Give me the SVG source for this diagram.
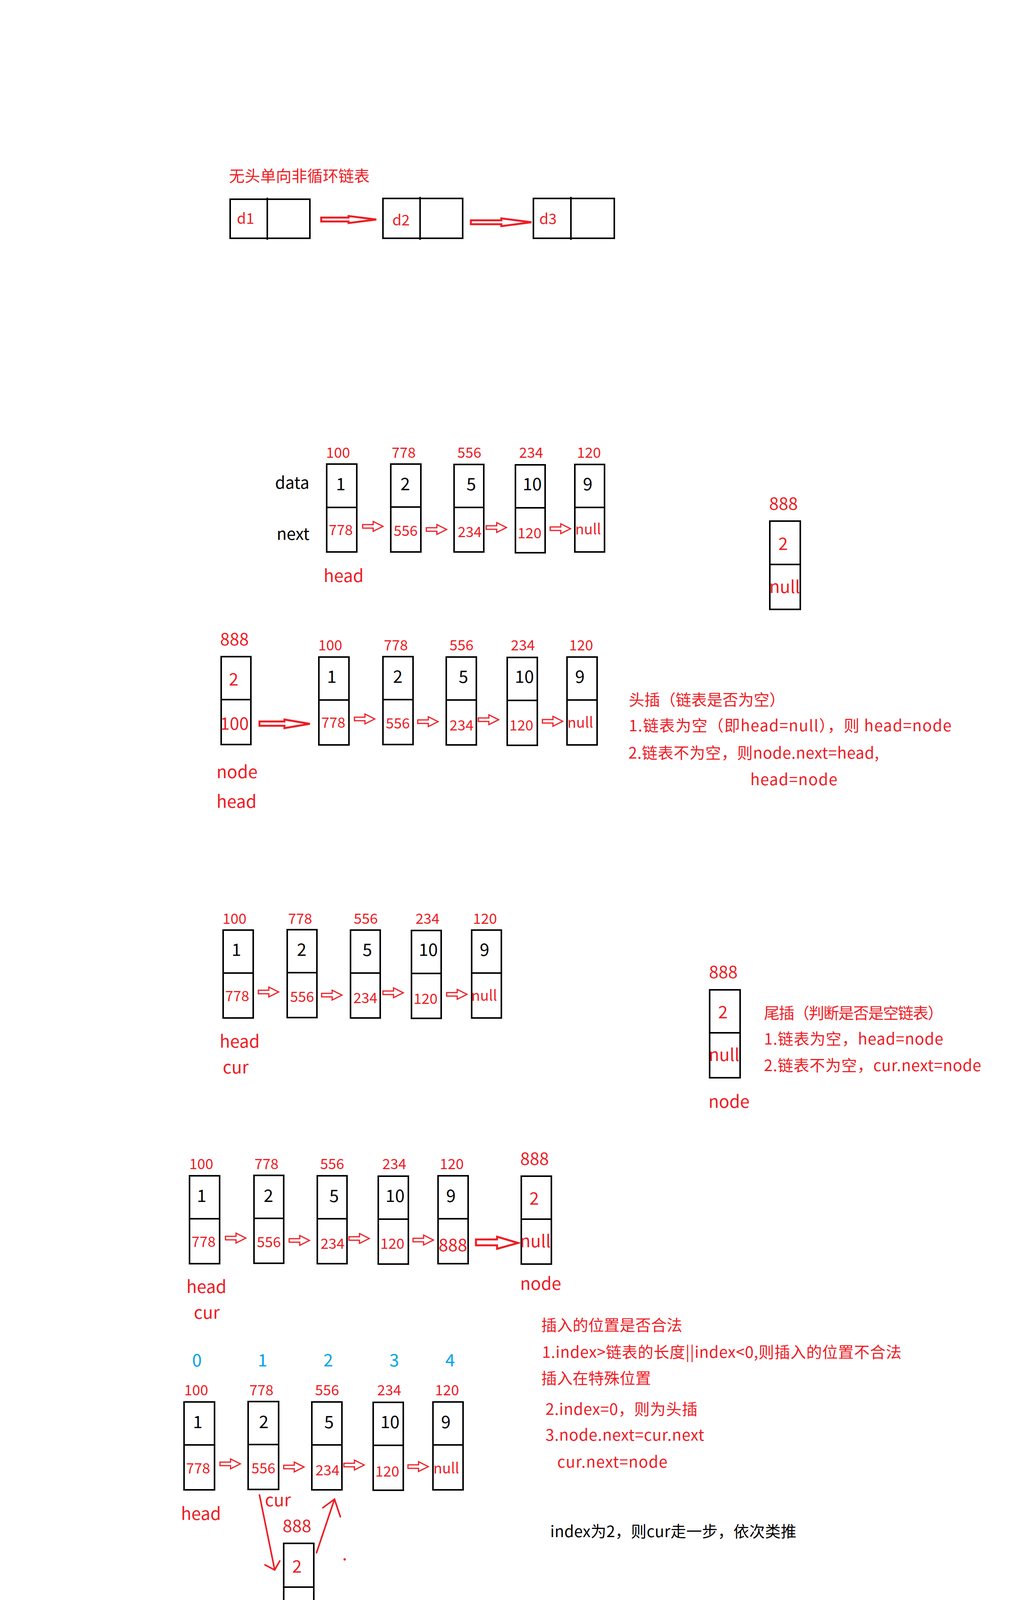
<svg xmlns="http://www.w3.org/2000/svg" xmlns:xlink="http://www.w3.org/1999/xlink" width="2600" height="5000" viewBox="0 0 2600 5000">
<style>
text { font-family: "Noto Sans CJK SC", "Noto Sans", sans-serif; }
.r { fill: #ed1c24; }
.k { fill: #000; }
.b { fill: #00a2e8; }
.box { fill: #fff; stroke: #000; stroke-width: 4; }
.dv { stroke: #000; stroke-width: 4; }
.arr { fill: #fff; stroke: #ed1c24; stroke-width: 3; stroke-linejoin: miter; }
.barr { fill: #fff; stroke: #ed1c24; stroke-width: 5; stroke-linejoin: miter; }
.hand { fill: none; stroke: #ed1c24; stroke-width: 4; stroke-linecap: round; }
.t40 { font-size: 40px; }
.lab { font-size: 37px; text-anchor: middle; }
.dat { font-size: 44px; text-anchor: middle; }
.nx { font-size: 37px; text-anchor: middle; }
.big { font-size: 44px; }
.mid { text-anchor: middle; }
.d { font-size: 38px; }
</style>
<defs>
<path id="sa" d="M0,8 H27 V0 L52,12.5 L27,25 V17 H0 Z"/>
</defs>
<rect width="2600" height="5000" fill="#fff"/>

<!-- Section 1 -->
<text class="r t40" x="586" y="465">无头单向非循环链表</text>
<g id="s1-d1">
<rect class="box" x="589" y="510" width="204" height="100"/>
<line class="dv" x1="684" y1="506" x2="684" y2="614"/>
<text class="r d" x="606" y="573">d1</text>
</g>
<g id="s1-d2">
<rect class="box" x="980" y="508" width="204" height="102"/>
<line class="dv" x1="1075" y1="504" x2="1075" y2="614"/>
<text class="r d" x="1004" y="577">d2</text>
</g>
<g id="s1-d3">
<rect class="box" x="1365" y="508" width="207" height="102"/>
<line class="dv" x1="1461" y1="504" x2="1461" y2="614"/>
<text class="r d" x="1380" y="574">d3</text>
</g>

<!-- Section 2 -->
<text class="k" x="704" y="1251" font-size="42">data</text>
<text class="k" x="708" y="1382" font-size="42">next</text>
<g id="s2-n100">
<text class="r lab" x="865" y="1172">100</text>
<rect class="box" x="836" y="1188" width="77" height="225"/>
<line class="dv" x1="836" y1="1299" x2="913" y2="1299"/>
<text class="k dat" x="872" y="1255">1</text>
<text class="r nx" x="872" y="1370">778</text>
</g>
<g id="s2-n778">
<text class="r lab" x="1033" y="1172">778</text>
<rect class="box" x="1000" y="1188" width="77" height="225"/>
<line class="dv" x1="1000" y1="1298" x2="1077" y2="1298"/>
<text class="k dat" x="1037" y="1255">2</text>
<text class="r nx" x="1038" y="1372">556</text>
</g>
<g id="s2-n556">
<text class="r lab" x="1201" y="1172">556</text>
<rect class="box" x="1162" y="1189" width="76" height="224"/>
<line class="dv" x1="1162" y1="1299" x2="1238" y2="1299"/>
<text class="k dat" x="1206" y="1255">5</text>
<text class="r nx" x="1202" y="1375">234</text>
</g>
<g id="s2-n234">
<text class="r lab" x="1359" y="1172">234</text>
<rect class="box" x="1319" y="1190" width="76" height="225"/>
<line class="dv" x1="1319" y1="1300" x2="1395" y2="1300"/>
<text class="k dat" x="1362" y="1255">10</text>
<text class="r nx" x="1355" y="1378">120</text>
</g>
<g id="s2-n120">
<text class="r lab" x="1507" y="1172">120</text>
<rect class="box" x="1471" y="1189" width="76" height="224"/>
<line class="dv" x1="1471" y1="1299" x2="1547" y2="1299"/>
<text class="k dat" x="1504" y="1255">9</text>
<text class="r nx" x="1505" y="1368">null</text>
</g>
<text class="r big" x="828" y="1490">head</text>
<g id="s2-n888">
<text class="r big mid" x="2005" y="1305">888</text>
<rect class="box" x="1970" y="1334" width="78" height="226"/>
<line class="dv" x1="1970" y1="1445" x2="2048" y2="1445"/>
<text class="r big mid" x="2004" y="1408">2</text>
<text class="r big mid" x="2008" y="1518">null</text>
</g>

<!-- Section 3 -->
<g id="s3-node">
<text class="r big mid" x="600" y="1652">888</text>
<rect class="box" x="566" y="1681" width="76" height="225"/>
<line class="dv" x1="566" y1="1791" x2="642" y2="1791"/>
<text class="r big mid" x="598" y="1755">2</text>
<text class="r big mid" x="600" y="1868">100</text>
</g>
<g id="s3-n100">
<text class="r lab" x="845" y="1665">100</text>
<rect class="box" x="816" y="1682" width="77" height="225"/>
<line class="dv" x1="816" y1="1792" x2="893" y2="1792"/>
<text class="k dat" x="849" y="1748">1</text>
<text class="r nx" x="853" y="1863">778</text>
</g>
<g id="s3-n778">
<text class="r lab" x="1013" y="1665">778</text>
<rect class="box" x="980" y="1681" width="77" height="225"/>
<line class="dv" x1="980" y1="1791" x2="1057" y2="1791"/>
<text class="k dat" x="1018" y="1748">2</text>
<text class="r nx" x="1018" y="1865">556</text>
</g>
<g id="s3-n556">
<text class="r lab" x="1181" y="1665">556</text>
<rect class="box" x="1142" y="1682" width="77" height="225"/>
<line class="dv" x1="1142" y1="1792" x2="1219" y2="1792"/>
<text class="k dat" x="1186" y="1748">5</text>
<text class="r nx" x="1181" y="1870">234</text>
</g>
<g id="s3-n234">
<text class="r lab" x="1338" y="1665">234</text>
<rect class="box" x="1298" y="1683" width="77" height="225"/>
<line class="dv" x1="1298" y1="1793" x2="1375" y2="1793"/>
<text class="k dat" x="1342" y="1748">10</text>
<text class="r nx" x="1334" y="1870">120</text>
</g>
<g id="s3-n120">
<text class="r lab" x="1487" y="1665">120</text>
<rect class="box" x="1451" y="1682" width="77" height="225"/>
<line class="dv" x1="1451" y1="1792" x2="1528" y2="1792"/>
<text class="k dat" x="1484" y="1748">9</text>
<text class="r nx" x="1485" y="1863">null</text>
</g>
<text class="r big" x="554" y="1992">node</text>
<text class="r big" x="554" y="2068">head</text>
<g id="s3-note">
<text class="r t40" x="1609" y="1806">头插（链表是否为空）</text>
<text class="r t40" x="1609" y="1872" textLength="826" lengthAdjust="spacing">1.链表为空（即head=null），则 head=node</text>
<text class="r t40" x="1608" y="1942" textLength="641" lengthAdjust="spacing">2.链表不为空，则node.next=head,</text>
<text class="r t40" x="1920" y="2010" textLength="223" lengthAdjust="spacing">head=node</text>
</g>

<!-- Section 4 -->
<g id="s4-n100">
<text class="r lab" x="600" y="2365">100</text>
<rect class="box" x="571" y="2381" width="77" height="225"/>
<line class="dv" x1="571" y1="2491" x2="648" y2="2491"/>
<text class="k dat" x="605" y="2447">1</text>
<text class="r nx" x="607" y="2563">778</text>
</g>
<g id="s4-n778">
<text class="r lab" x="768" y="2365">778</text>
<rect class="box" x="735" y="2380" width="76" height="225"/>
<line class="dv" x1="735" y1="2490" x2="811" y2="2490"/>
<text class="k dat" x="772" y="2447">2</text>
<text class="r nx" x="773" y="2565">556</text>
</g>
<g id="s4-n556">
<text class="r lab" x="936" y="2365">556</text>
<rect class="box" x="897" y="2381" width="76" height="225"/>
<line class="dv" x1="897" y1="2491" x2="973" y2="2491"/>
<text class="k dat" x="940" y="2447">5</text>
<text class="r nx" x="935" y="2568">234</text>
</g>
<g id="s4-n234">
<text class="r lab" x="1094" y="2365">234</text>
<rect class="box" x="1053" y="2382" width="76" height="225"/>
<line class="dv" x1="1053" y1="2492" x2="1129" y2="2492"/>
<text class="k dat" x="1096" y="2447">10</text>
<text class="r nx" x="1089" y="2570">120</text>
</g>
<g id="s4-n120">
<text class="r lab" x="1241" y="2365">120</text>
<rect class="box" x="1207" y="2381" width="76" height="225"/>
<line class="dv" x1="1207" y1="2491" x2="1283" y2="2491"/>
<text class="k dat" x="1240" y="2447">9</text>
<text class="r nx" x="1239" y="2562">null</text>
</g>
<text class="r big" x="562" y="2682">head</text>
<text class="r big" x="570" y="2748">cur</text>
<g id="s4-node">
<text class="r big mid" x="1851" y="2504">888</text>
<rect class="box" x="1816" y="2534" width="78" height="225"/>
<line class="dv" x1="1816" y1="2644" x2="1894" y2="2644"/>
<text class="r big mid" x="1850" y="2607">2</text>
<text class="r big mid" x="1853" y="2716">null</text>
<text class="r big" x="1813" y="2836">node</text>
</g>
<g id="s4-note">
<text class="r t40" x="1955" y="2608" textLength="459" lengthAdjust="spacing">尾插（判断是否是空链表）</text>
<text class="r t40" x="1955" y="2674" textLength="459" lengthAdjust="spacing">1.链表为空，head=node</text>
<text class="r t40" x="1955" y="2742" textLength="556" lengthAdjust="spacing">2.链表不为空，cur.next=node</text>
</g>

<!-- Section 5 -->
<g id="s5-n100">
<text class="r lab" x="515" y="2993">100</text>
<rect class="box" x="485" y="3010" width="77" height="225"/>
<line class="dv" x1="485" y1="3120" x2="562" y2="3120"/>
<text class="k dat" x="516" y="3077">1</text>
<text class="r nx" x="521" y="3192">778</text>
</g>
<g id="s5-n778">
<text class="r lab" x="682" y="2993">778</text>
<rect class="box" x="650" y="3009" width="76" height="225"/>
<line class="dv" x1="650" y1="3119" x2="726" y2="3119"/>
<text class="k dat" x="687" y="3077">2</text>
<text class="r nx" x="688" y="3193">556</text>
</g>
<g id="s5-n556">
<text class="r lab" x="850" y="2993">556</text>
<rect class="box" x="812" y="3010" width="76" height="225"/>
<line class="dv" x1="812" y1="3120" x2="888" y2="3120"/>
<text class="k dat" x="855" y="3077">5</text>
<text class="r nx" x="851" y="3197">234</text>
</g>
<g id="s5-n234">
<text class="r lab" x="1009" y="2993">234</text>
<rect class="box" x="968" y="3011" width="77" height="225"/>
<line class="dv" x1="968" y1="3121" x2="1045" y2="3121"/>
<text class="k dat" x="1011" y="3077">10</text>
<text class="r nx" x="1004" y="3197">120</text>
</g>
<g id="s5-n120">
<text class="r lab" x="1156" y="2993">120</text>
<rect class="box" x="1121" y="3010" width="77" height="225"/>
<line class="dv" x1="1121" y1="3120" x2="1198" y2="3120"/>
<text class="k dat" x="1154" y="3077">9</text>
<text class="r big mid" x="1159" y="3203">888</text>
</g>
<g id="s5-node">
<text class="r big mid" x="1368" y="2982">888</text>
<rect class="box" x="1334" y="3011" width="77" height="225"/>
<line class="dv" x1="1334" y1="3121" x2="1411" y2="3121"/>
<text class="r big mid" x="1367" y="3084">2</text>
<text class="r big mid" x="1370" y="3193">null</text>
<text class="r big" x="1331" y="3302">node</text>
</g>
<text class="r big" x="477" y="3310">head</text>
<text class="r big" x="496" y="3376">cur</text>

<!-- Section 6 -->
<g id="s6-index">
<text class="b big mid" x="504" y="3498">0</text>
<text class="b big mid" x="672" y="3498">1</text>
<text class="b big mid" x="840" y="3498">2</text>
<text class="b big mid" x="1009" y="3498">3</text>
<text class="b big mid" x="1152" y="3498">4</text>
</g>
<g id="s6-n100">
<text class="r lab" x="502" y="3572">100</text>
<rect class="box" x="471" y="3589" width="78" height="225"/>
<line class="dv" x1="471" y1="3699" x2="549" y2="3699"/>
<text class="k dat" x="506" y="3656">1</text>
<text class="r nx" x="507" y="3772">778</text>
</g>
<g id="s6-n778">
<text class="r lab" x="669" y="3572">778</text>
<rect class="box" x="635" y="3588" width="78" height="225"/>
<line class="dv" x1="635" y1="3698" x2="713" y2="3698"/>
<text class="k dat" x="675" y="3656">2</text>
<text class="r nx" x="674" y="3772">556</text>
</g>
<g id="s6-n556">
<text class="r lab" x="837" y="3572">556</text>
<rect class="box" x="798" y="3589" width="77" height="225"/>
<line class="dv" x1="798" y1="3699" x2="875" y2="3699"/>
<text class="k dat" x="842" y="3656">5</text>
<text class="r nx" x="838" y="3777">234</text>
</g>
<g id="s6-n234">
<text class="r lab" x="996" y="3572">234</text>
<rect class="box" x="955" y="3590" width="77" height="225"/>
<line class="dv" x1="955" y1="3700" x2="1032" y2="3700"/>
<text class="k dat" x="998" y="3656">10</text>
<text class="r nx" x="991" y="3780">120</text>
</g>
<g id="s6-n120">
<text class="r lab" x="1144" y="3572">120</text>
<rect class="box" x="1108" y="3589" width="77" height="225"/>
<line class="dv" x1="1108" y1="3699" x2="1185" y2="3699"/>
<text class="k dat" x="1141" y="3656">9</text>
<text class="r nx" x="1142" y="3772">null</text>
</g>
<text class="r big" x="463" y="3891">head</text>
<text class="r big" x="678" y="3856">cur</text>
<g id="s6-node">
<text class="r big mid" x="760" y="3922">888</text>
<rect class="box" x="726" y="3951" width="77" height="226"/>
<line class="dv" x1="726" y1="4063" x2="803" y2="4063"/>
<text class="r big mid" x="760" y="4026">2</text>
<text class="r big mid" x="762" y="4135">null</text>
<text class="r big" x="723" y="4250">node</text>
</g>
<g id="s6-note">
<text class="r t40" x="1385" y="3407" textLength="361" lengthAdjust="spacing">插入的位置是否合法</text>
<text class="r t40" x="1387" y="3476" textLength="920" lengthAdjust="spacing">1.index&gt;链表的长度||index&lt;0,则插入的位置不合法</text>
<text class="r t40" x="1385" y="3543" textLength="281" lengthAdjust="spacing">插入在特殊位置</text>
<text class="r t40" x="1396" y="3622" textLength="389" lengthAdjust="spacing">2.index=0，则为头插</text>
<text class="r t40" x="1396" y="3688" textLength="406" lengthAdjust="spacing">3.node.next=cur.next</text>
<text class="r t40" x="1426" y="3757" textLength="282" lengthAdjust="spacing">cur.next=node</text>
<text class="k t40" x="1408" y="3935" textLength="630" lengthAdjust="spacing">index为2，则cur走一步，依次类推</text>
</g>

<!-- Connectors -->
<g id="connectors">
<path class="barr" d="M822,557 H892 V553 L963,562 L892,571 V567 H822 Z"/>
<path class="barr" d="M1205,564 H1283 V559 L1360,569 L1283,579 V574 H1205 Z"/>

<use xlink:href="#sa" class="arr" x="928" y="1335"/>
<use xlink:href="#sa" class="arr" x="1091" y="1343"/>
<use xlink:href="#sa" class="arr" x="1244" y="1338"/>
<use xlink:href="#sa" class="arr" x="1408" y="1341"/>

<path class="barr" d="M664,1847 H728 V1842 L793,1853 L728,1864 V1858 H664 Z"/>
<use xlink:href="#sa" class="arr" x="907" y="1828"/>
<use xlink:href="#sa" class="arr" x="1069" y="1835"/>
<use xlink:href="#sa" class="arr" x="1224" y="1830"/>
<use xlink:href="#sa" class="arr" x="1388" y="1834"/>

<use xlink:href="#sa" class="arr" x="661" y="2527"/>
<use xlink:href="#sa" class="arr" x="823" y="2535"/>
<use xlink:href="#sa" class="arr" x="980" y="2529"/>
<use xlink:href="#sa" class="arr" x="1143" y="2533"/>

<use xlink:href="#sa" class="arr" x="577" y="3157"/>
<use xlink:href="#sa" class="arr" x="740" y="3163"/>
<use xlink:href="#sa" class="arr" x="893" y="3158"/>
<use xlink:href="#sa" class="arr" x="1057" y="3162"/>
<path class="barr" d="M1218,3173 H1272 V3166 L1326,3182 L1272,3197 V3188 H1218 Z"/>

<use xlink:href="#sa" class="arr" x="563" y="3735"/>
<use xlink:href="#sa" class="arr" x="726" y="3743"/>
<use xlink:href="#sa" class="arr" x="880" y="3738"/>
<use xlink:href="#sa" class="arr" x="1044" y="3742"/>

<path class="hand" d="M664,3827 L703,4019 M678,4006 L703,4019 L716,3996"/>
<path class="hand" d="M810,3975 L856,3838 M826,3860 L856,3838 L871,3883"/>
<circle cx="882" cy="3992" r="3" fill="#ed1c24"/>
</g>
</svg>
